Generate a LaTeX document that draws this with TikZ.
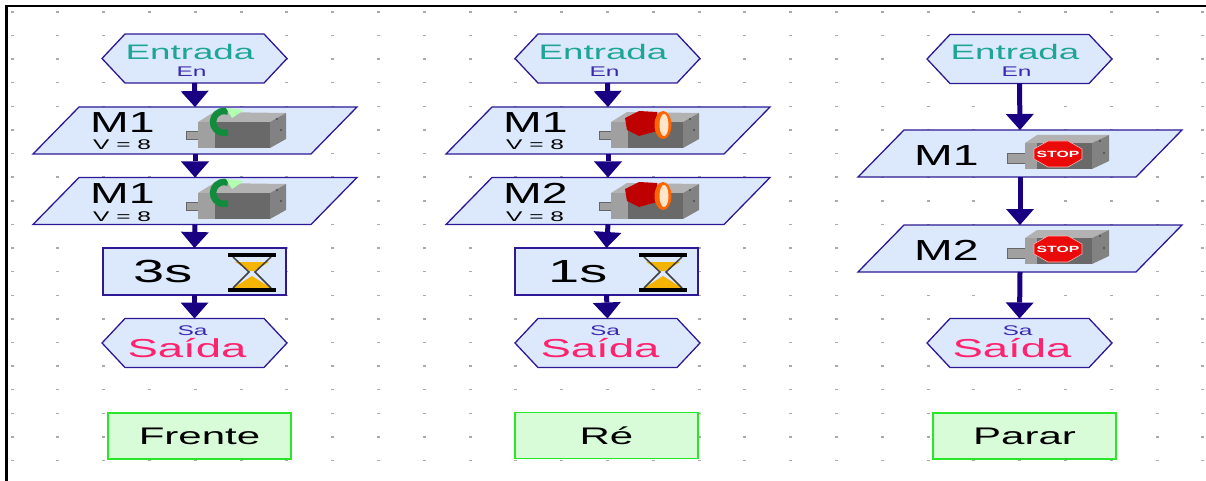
\documentclass[tikz,border=0pt]{standalone}
\usepackage{fontspec}
\setmainfont[FakeStretch=1.75]{Liberation Sans}
\newfontfamily\narrowf[FakeStretch=1.6]{Liberation Sans}
\usetikzlibrary{arrows.meta}

\definecolor{navy}{RGB}{25,0,130}
\definecolor{bord}{RGB}{45,25,150}
\definecolor{shfill}{RGB}{220,233,252}
\definecolor{teal2}{RGB}{30,165,150}
\definecolor{enc}{RGB}{60,40,175}
\definecolor{pinkc}{RGB}{255,35,110}
\definecolor{grbord}{RGB}{40,230,40}
\definecolor{grfill}{RGB}{215,252,215}
\definecolor{dotc}{RGB}{170,170,170}
\definecolor{sandc}{RGB}{245,180,0}
\definecolor{mtop}{RGB}{178,178,178}
\definecolor{mfront}{RGB}{105,105,105}
\definecolor{mleft}{RGB}{160,160,160}
\definecolor{mright}{RGB}{130,130,130}
\definecolor{crescent}{RGB}{16,140,60}
\definecolor{stopred}{RGB}{235,10,10}

\newcommand\fsz[1]{\fontsize{#1}{#1}\selectfont}
\newcommand\hexfig[1]{\path[shapeline] (#1.west) -- ([xshift=23pt]#1.north west) -- ([xshift=-23pt]#1.north east) -- (#1.east) -- ([xshift=-23pt]#1.south east) -- ([xshift=23pt]#1.south west) -- cycle;}
\newcommand\parfig[1]{\path[shapeline] ([xshift=46pt]#1.north west) -- (#1.north east) -- ([xshift=-46pt]#1.south east) -- (#1.south west) -- cycle;}

\tikzset{
  shapeline/.style={draw=bord, fill=shfill, line width=1.3pt, line join=miter},
  hexbox/.style={rectangle, inner sep=0pt, outer sep=0pt, minimum width=185pt, minimum height=49pt},
  parbox/.style={rectangle, inner sep=0pt, outer sep=0pt, minimum width=324pt, minimum height=47pt},
  waitbox/.style={rectangle, draw=bord, fill=shfill, line width=1.3pt, inner sep=0pt, outer sep=0pt, minimum width=183pt, minimum height=47pt},
  labelbox/.style={rectangle, draw=grbord, fill=grfill, line width=1.8pt, inner sep=0pt, outer sep=0pt, minimum width=183pt, minimum height=46pt, font=\fsz{24}, text=black},
  txtE/.style={font=\fsz{21}, text=teal2, anchor=base, inner sep=0pt},
  txtEn/.style={font=\fsz{14}, text=enc, anchor=base, inner sep=0pt},
  txtM/.style={font=\narrowf\fsz{29}, text=black, anchor=base west, inner sep=0pt},
  txtV/.style={font=\fsz{14}, text=black, anchor=base west, inner sep=0pt},
  txtT/.style={font=\fsz{32}, text=black, anchor=base west, inner sep=0pt},
  txtSa/.style={font=\fsz{14}, text=enc, anchor=base, inner sep=0pt},
  txtS/.style={font=\fsz{26}, text=pinkc, anchor=base, inner sep=0pt},
  conn/.style={draw=navy, line width=5pt, -{Triangle[width=28pt,length=16pt,line width=0pt]}},
  motorbase/.pic={
    \fill[mleft] (4,23) rectangle (18,31);
    \draw[black!60, line width=0.5pt] (4,23) rectangle (18,31);
    \fill[mtop] (16,14) -- (32,4) -- (104,5) -- (88,14) -- cycle;
    \fill[mfront] (16,14) rectangle (88,40);
    \fill[mleft] (16,14) rectangle (33,40);
    \fill[mright] (88,14) -- (104,5) -- (104,31) -- (88,40) -- cycle;
    \fill[black!70] (95,11) circle (1.2) (99,22) circle (1.2);
  },
  fwdmotor/.pic={
    \pic {motorbase};
    \draw[line width=6.5pt, crescent] (45.8,24.3) arc[start angle=70, end angle=290, radius=11];
    \fill[green!30] (44,0) -- (62,2) -- (50,10) -- cycle;
  },
  revmotor/.pic={
    \pic {motorbase};
    \fill[red!75!black] (30,10) -- (44,3) -- (62,4) -- (62,23) -- (44,28) -- (32,22) -- cycle;
    \fill[orange!80!red] (68,17) ellipse[x radius=8.5, y radius=14];
    \fill[orange!20] (69,17) ellipse[x radius=4.5, y radius=11];
  },
  stopmotor/.pic={
    \fill[mleft] (0,20) rectangle (20,30);
    \draw[black!60, line width=0.5pt] (0,20) rectangle (20,30);
    \fill[mtop] (18,10) -- (30,2) -- (102,2) -- (85,10) -- cycle;
    \fill[mfront] (18,10) rectangle (85,36);
    \fill[mleft] (18,10) rectangle (30,36);
    \fill[mright] (85,10) -- (102,2) -- (102,28) -- (85,36) -- cycle;
    \fill[black!70] (93,8) circle (1.2) (97,20) circle (1.2);
    \filldraw[fill=stopred, draw=white!70!red, line width=0.6pt] (75,16) -- (75,26) -- (61,34) -- (41,34) -- (27,26) -- (27,16) -- (41,8) -- (61,8) -- cycle;
    \node[font=\bfseries\fsz{9}, text=white, inner sep=0pt] at (51,21) {STOP};
  },
  hourglass/.pic={
    \fill[sandc] (8,10) -- (42,10) -- (27,19) -- (23,19) -- cycle;
    \fill[sandc] (25,24) -- (44,36) -- (6,36) -- cycle;
    \draw[black!75, line width=1.5pt] (6,5) -- (22,20) -- (6,36);
    \draw[black!75, line width=1.5pt] (44,5) -- (28,20) -- (44,36);
    \fill[black] (1,1) rectangle (49,5);
    \fill[black] (1,36) rectangle (49,40);
  }
}

\begin{document}
\begin{tikzpicture}[x=1pt,y=-1pt]
\useasboundingbox (0,0) rectangle (1206,481);
\fill[white] (0,0) rectangle (1206,481);
% grid dots
\foreach \i in {0,...,26}{
  \foreach \j in {0,...,19}{
    \fill[dotc] (10.5+45.8*\i,11.3+23.6*\j) rectangle ++(3,1.4);
  }
}
% frame
\draw[black, line width=2.5pt] (6.5,481) -- (6.5,6) -- (1206,6);

% ---------- column 1 ----------
\node[hexbox] (e1) at (194.5,58.5) {};
\hexfig{e1}
\node[txtE] (e1t) at (190,60) {Entrada};
\node[txtEn] (e1s) at (191.5,77) {En};

\node[parbox] (p11) at (195,130.5) {};
\parfig{p11}
\node[txtM] (p11t) at (90,133) {M1};
\node[txtV] (p11v) at (93,150) {V = 8};
\pic at (182,108) {fwdmotor};

\node[parbox] (p12) at (195,201) {};
\parfig{p12}
\node[txtM] (p12t) at (90,204) {M1};
\node[txtV] (p12v) at (93,221) {V = 8};
\pic at (182,179) {fwdmotor};

\node[waitbox] (w1) at (194.5,271.5) {};
\node[txtT] (w1t) at (133,282) {3s};
\pic at (227,252) {hourglass};

\node[hexbox] (s1) at (194.5,343) {};
\hexfig{s1}
\node[txtSa] (s1s) at (192.5,335.5) {Sa};
\node[txtS] (s1t) at (187,357) {Saída};

\node[labelbox] (l1) at (199.5,436) {Frente};

% ---------- column 2 ----------
\node[hexbox] (e2) at (607.5,58.5) {};
\hexfig{e2}
\node[txtE] (e2t) at (603,60) {Entrada};
\node[txtEn] (e2s) at (604.5,77) {En};

\node[parbox] (p21) at (608,130.5) {};
\parfig{p21}
\node[txtM] (p21t) at (503,133) {M1};
\node[txtV] (p21v) at (506,150) {V = 8};
\pic at (595,108) {revmotor};

\node[parbox] (p22) at (608,201) {};
\parfig{p22}
\node[txtM] (p22t) at (503,204) {M2};
\node[txtV] (p22v) at (506,221) {V = 8};
\pic at (595,179) {revmotor};

\node[waitbox] (w2) at (606.5,271.5) {};
\node[txtT] (w2t) at (548,282) {1s};
\pic at (638,252) {hourglass};

\node[hexbox] (s2) at (607.5,343) {};
\hexfig{s2}
\node[txtSa] (s2s) at (605,335.5) {Sa};
\node[txtS] (s2t) at (600,357) {Saída};

\node[labelbox] (l2) at (606.5,435.5) {Ré};

% ---------- column 3 ----------
\node[hexbox] (e3) at (1019.5,59) {};
\hexfig{e3}
\node[txtE] (e3t) at (1015,60) {Entrada};
\node[txtEn] (e3s) at (1016.5,77) {En};

\node[parbox] (p31) at (1020,153.5) {};
\parfig{p31}
\node[txtM] (p31t) at (914,165) {M1};
\pic at (1007,133) {stopmotor};

\node[parbox] (p32) at (1020,248.5) {};
\parfig{p32}
\node[txtM] (p32t) at (914,260) {M2};
\pic at (1007,228) {stopmotor};

\node[hexbox] (s3) at (1019.5,343) {};
\hexfig{s3}
\node[txtSa] (s3s) at (1017.5,335.5) {Sa};
\node[txtS] (s3t) at (1012,357) {Saída};

\node[labelbox] (l3) at (1024.5,436) {Parar};

% ---------- connectors ----------
\draw[conn] (e1.south) -- (p11.north);
\draw[conn] (p11.south) -- (p12.north);
\draw[conn] (p12.south) -- (w1.north);
\draw[conn] (w1.south) -- (s1.north);

\draw[conn] (e2.south) -- (p21.north);
\draw[conn] (p21.south) -- (p22.north);
\draw[conn] (p22.south) -- (w2.north);
\draw[conn] (w2.south) -- (s2.north);

\draw[conn] (e3.south) -- (p31.north);
\draw[conn] (p31.south) -- (p32.north);
\draw[conn] (p32.south) -- (s3.north);
\end{tikzpicture}
\end{document}
